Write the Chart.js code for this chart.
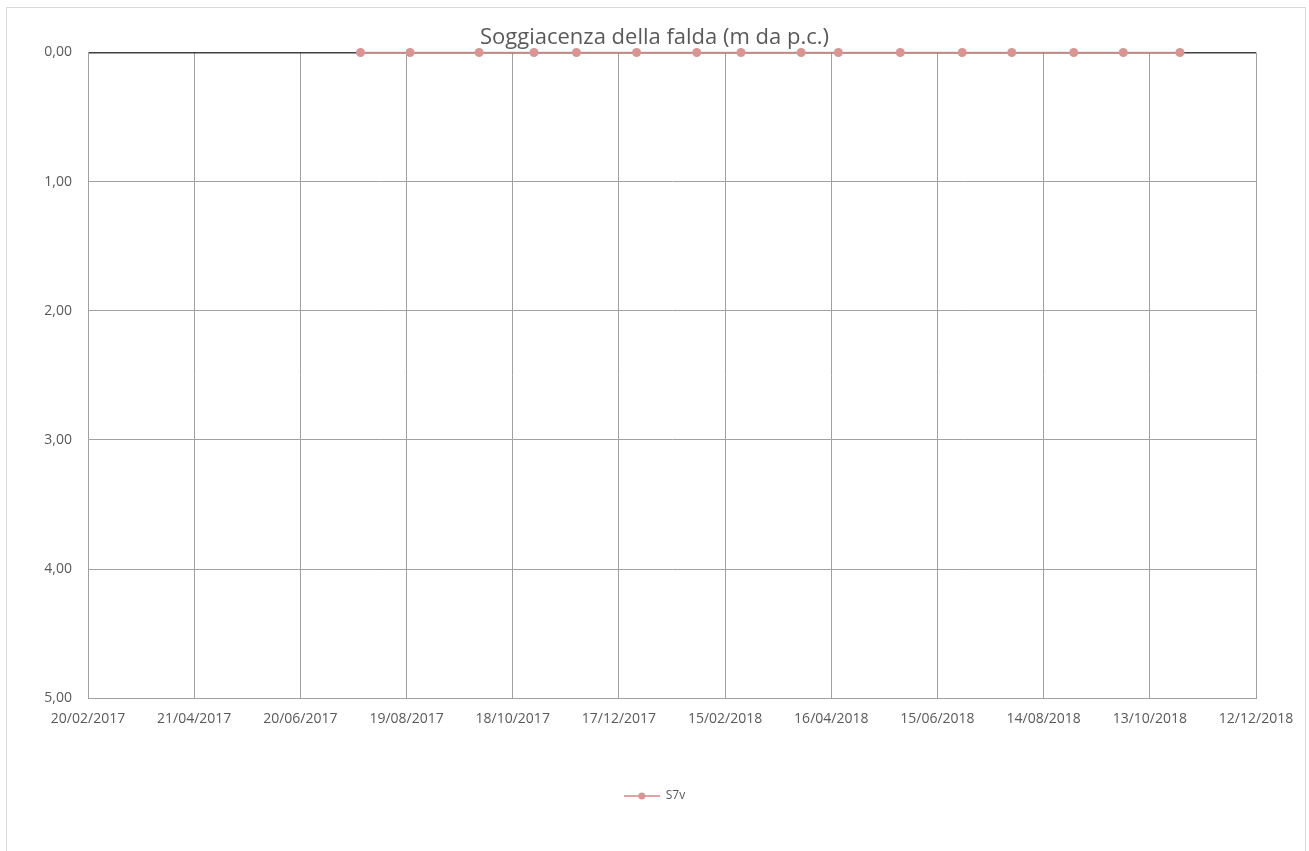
<!DOCTYPE html>
<html>
<head>
<meta charset="utf-8">
<script src="https://cdn.jsdelivr.net/npm/chart.js@4.4.1/dist/chart.umd.min.js"></script>
<style>
  html, body { margin: 0; padding: 0; background: #ffffff; }
  #wrap { width: 1309px; height: 851px; position: relative; }
</style>
</head>
<body>
<div id="wrap"><canvas id="c" width="1309" height="851"></canvas></div>
<script>
// ---- Data ----
const seriesName = 'S7v';
const sampleDates = [
  '2017-07-24', '2017-08-21', '2017-09-29', '2017-10-30', '2017-11-23', '2017-12-27',
  '2018-01-30', '2018-02-24', '2018-03-30', '2018-04-20', '2018-05-25', '2018-06-29',
  '2018-07-27', '2018-08-31', '2018-09-28', '2018-10-30'
];
const depthValues = [0, 0, 0, 0, 0, 0, 0, 0, 0, 0, 0, 0, 0, 0, 0, 0];
const xAxisStart = '2017-02-20';
const xAxisEnd = '2018-12-12';
const xTickStepDays = 60;
const yTickValues = [0, 1, 2, 3, 4, 5];
const chartTitle = 'Soggiacenza della falda (m da p.c.)';

// ---- helpers ----
const DAY = 86400000;
function toDay(s) { const p = s.split('-').map(Number); return Date.UTC(p[0], p[1] - 1, p[2]) / DAY; }
function fmtDay(d) {
  const dt = new Date(Math.round(d) * DAY);
  const dd = String(dt.getUTCDate()).padStart(2, '0');
  const mm = String(dt.getUTCMonth() + 1).padStart(2, '0');
  return dd + '/' + mm + '/' + dt.getUTCFullYear();
}

const points = sampleDates.map((d, i) => ({ x: toDay(d), y: depthValues[i] }));

const lineColor = 'rgba(217,149,148,0.85)';
const dotColor = '#d99594';
const gridColor = '#a0a0a0';
const textColor = '#595959';
const fontFamily = "'Open Sans', 'Noto Sans', sans-serif";

// legend marker: line with a dot
const legendMarker = document.createElement('canvas');
legendMarker.width = 36; legendMarker.height = 10;
(function () {
  const g = legendMarker.getContext('2d');
  g.strokeStyle = lineColor; g.lineWidth = 2;
  g.beginPath(); g.moveTo(0, 5); g.lineTo(36, 5); g.stroke();
  g.fillStyle = dotColor;
  g.beginPath(); g.arc(18, 5, 3.5, 0, Math.PI * 2); g.fill();
})();

const frame = {
  id: 'frame',
  afterLayout(chart) {
    // let y tick labels extend left of the (narrow) axis box without being clipped
    chart.scales.y.left = 7;
  },
  beforeDraw(chart) {
    const ctx = chart.ctx;
    ctx.save();
    ctx.fillStyle = '#ffffff';
    ctx.fillRect(0, 0, chart.width, chart.height);
    ctx.strokeStyle = '#d9d9d9';
    ctx.lineWidth = 1;
    ctx.beginPath();
    ctx.moveTo(6.5, 860); ctx.lineTo(6.5, 7.5); ctx.lineTo(1305.5, 7.5); ctx.lineTo(1305.5, 860);
    ctx.stroke();
    ctx.restore();
  }
};

new Chart(document.getElementById('c'), {
  type: 'line',
  data: {
    datasets: [{
      label: seriesName,
      data: points,
      borderColor: lineColor,
      borderWidth: 1.75,
      pointBackgroundColor: dotColor,
      pointBorderColor: dotColor,
      pointRadius: 4.5,
      pointBorderWidth: 0,
      pointStyle: 'circle',
      tension: 0,
      clip: false
    }]
  },
  options: {
    responsive: false,
    animation: false,
    layout: { padding: { left: 53, right: 53, top: 7, bottom: 39 } },
    plugins: {
      title: {
        display: true,
        text: chartTitle,
        color: textColor,
        font: { family: fontFamily, size: 22, weight: 'normal' },
        padding: { top: 17.5, bottom: 1.6 }
      },
      legend: {
        position: 'bottom',
        labels: {
          usePointStyle: true,
          pointStyleWidth: 36,
          padding: 51,
          color: textColor,
          font: { family: fontFamily, size: 12 },
          generateLabels(chart) {
            return chart.data.datasets.map((ds, i) => ({
              text: ds.label,
              pointStyle: legendMarker,
              fillStyle: dotColor,
              strokeStyle: dotColor,
              lineWidth: 0,
              fontColor: textColor,
              datasetIndex: i,
              hidden: false
            }));
          }
        }
      },
      tooltip: { enabled: false }
    },
    scales: {
      x: {
        type: 'linear',
        min: toDay(xAxisStart),
        max: toDay(xAxisEnd),
        ticks: {
          stepSize: xTickStepDays,
          autoSkip: false,
          maxRotation: 0,
          padding: 12,
          color: textColor,
          font: { family: fontFamily, size: 14 },
          callback: (v) => fmtDay(v)
        },
        grid: { color: gridColor, lineWidth: 1, drawTicks: false },
        border: { color: gridColor, width: 1 }
      },
      y: {
        reverse: true,
        min: yTickValues[0],
        max: yTickValues[yTickValues.length - 1],
        afterBuildTicks(scale) { scale.ticks = yTickValues.map(v => ({ value: v })); },
        afterFit(scale) { scale.width = 35; },
        ticks: {
          padding: 16,
          color: textColor,
          font: { family: fontFamily, size: 14 },
          callback: (v) => Number(v).toFixed(2).replace('.', ',')
        },
        grid: {
          drawTicks: false,
          color: (ctx) => (ctx.tick && ctx.tick.value === 0 ? '#404040' : gridColor),
          lineWidth: (ctx) => (ctx.tick && ctx.tick.value === 0 ? 1.5 : 1)
        },
        border: { color: gridColor, width: 1 }
      }
    }
  },
  plugins: [frame]
});
</script>
</body>
</html>
